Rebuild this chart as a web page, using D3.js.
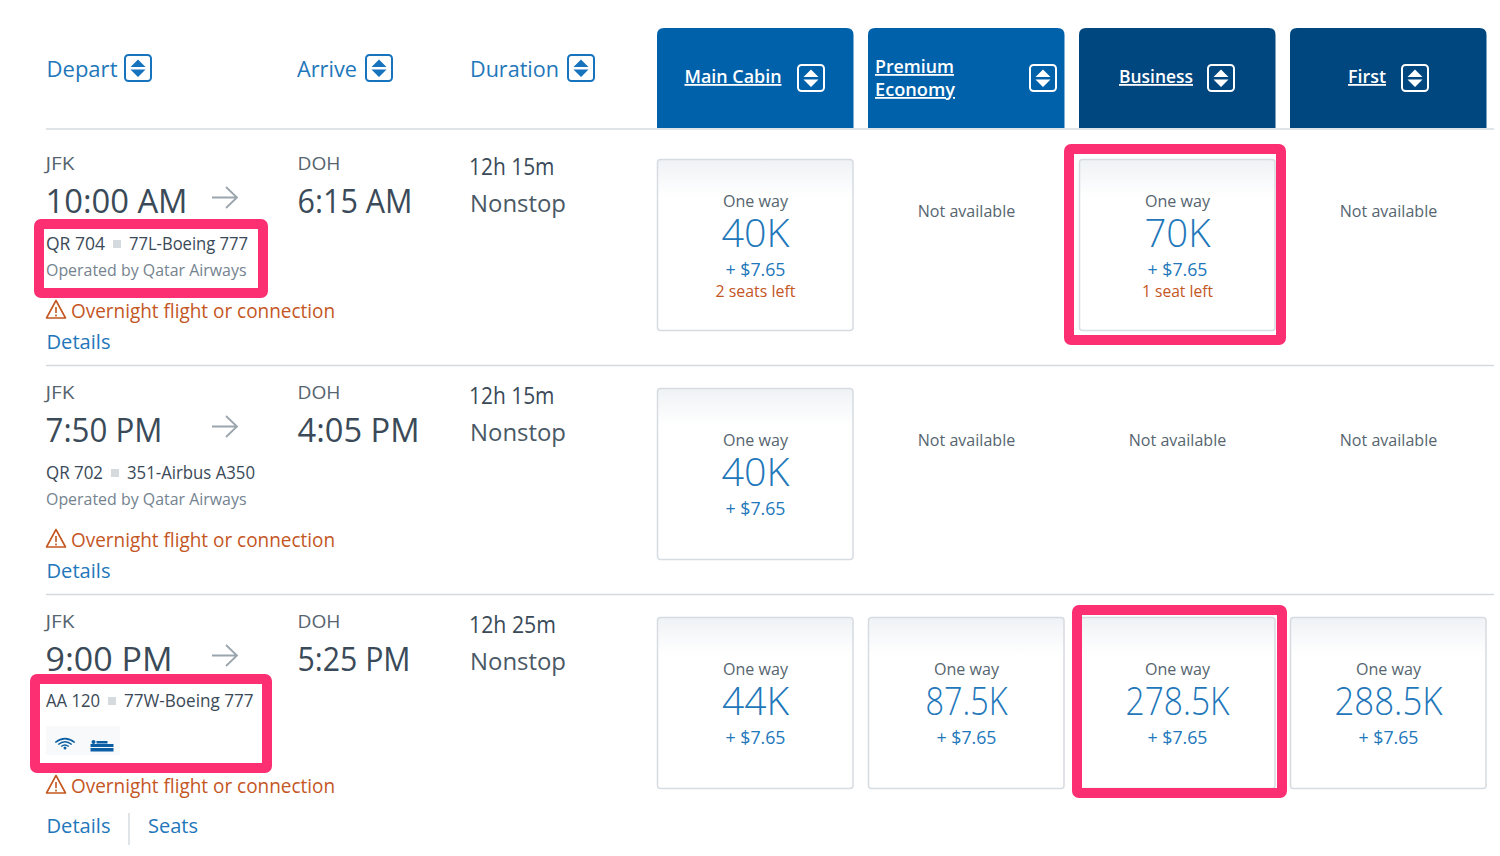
<!DOCTYPE html>
<html><head><meta charset="utf-8">
<script src="https://cdn.jsdelivr.net/npm/d3@7/dist/d3.min.js"></script>
<style>html,body{margin:0;background:#fff}svg{display:block}text{font-family:"Open Sans",sans-serif}</style>
</head><body><svg id="c" width="1500" height="856"></svg>
<script>
const cabins=["Main Cabin","Premium Economy","Business","First"];
const departAirports=["JFK","JFK","JFK"];
const departTimes=["10:00 AM","7:50 PM","9:00 PM"];
const arriveAirports=["DOH","DOH","DOH"];
const arriveTimes=["6:15 AM","4:05 PM","5:25 PM"];
const durations=["12h 15m","12h 15m","12h 25m"];
const stops=["Nonstop","Nonstop","Nonstop"];
const flights=["QR 704","QR 702","AA 120"];
const aircraft=["77L-Boeing 777","351-Airbus A350","77W-Boeing 777"];
const operators=["Operated by Qatar Airways","Operated by Qatar Airways",""];
const mainCabinFares=["40K","40K","44K"];
const premiumFares=[null,null,"87.5K"];
const businessFares=["70K",null,"278.5K"];
const firstFares=[null,null,"288.5K"];
const seatNotes=[["2 seats left",null,"1 seat left",null],[null,null,null,null],[null,null,null,null]];
const taxes="+ $7.65";

const DARK="#3a4a58",BLUE="#2277ba",ORANGE="#c4561f",PINK="#fb2f72",RULE="#d3dbe0";
const svg=d3.select("#c");
const defs=svg.append("defs");
const g=defs.append("linearGradient").attr("id","cardG").attr("x1",0).attr("x2",0).attr("y1",0).attr("y2",1);
g.append("stop").attr("offset",0).attr("stop-color","#eff2f5");
g.append("stop").attr("offset",.22).attr("stop-color","#ffffff");

const x=d3.scaleBand().domain(cabins).range([657,1487]).paddingInner(14/211).paddingOuter(0);
const y=d3.scaleBand().domain(d3.range(3)).range([129,816]);
const fares=[mainCabinFares,premiumFares,businessFares,firstFares];

function T(s,px,py,size,fill,opt={}){
  return svg.append("text").attr("x",px).attr("y",py).attr("font-size",size).attr("fill",fill)
   .attr("font-weight",opt.w||400).attr("text-anchor",opt.a||"start")
   .attr("text-decoration",opt.u?"underline":null)
   .attr("textLength",opt.len||null).attr("lengthAdjust",opt.len?"spacingAndGlyphs":null).text(s);
}
function sortIcon(px,py,col){
  const i=svg.append("g").attr("transform",`translate(${px},${py})`);
  i.append("rect").attr("x",1).attr("y",1).attr("width",26).attr("height",26).attr("rx",3.5).attr("fill","none").attr("stroke",col).attr("stroke-width",2);
  i.append("path").attr("d","M14 5.5L21.5 13H6.5Z M14 23L6.5 15.5H21.5Z").attr("fill",col);
}
[["Depart",46.5,71,124],["Arrive",297,60,365],["Duration",470,89,567]].forEach(([s,px,len,ix])=>{
  T(s,px,77,22,BLUE,{len}); sortIcon(ix,54,"#1673bd");
});
const tabColor=d3.scaleOrdinal().domain(cabins).range(["#0061ab","#0061ab","#00467f","#00467f"]);
svg.selectAll("path.tab").data(cabins).join("path").attr("class","tab")
  .attr("d",c=>{const a=x(c),w=x.bandwidth()-.5;return `M${a} 128V35Q${a} 28 ${a+7} 28H${a+w-7}Q${a+w} 28 ${a+w} 35V128Z`})
  .attr("fill",c=>tabColor(c));
T("Main Cabin",684.5,83,18,"#fff",{w:600,u:1,len:97}); sortIcon(797,64,"#fff");
T("Premium",875,73,18,"#fff",{w:600,u:1,len:79});
T("Economy",875,96,18,"#fff",{w:600,u:1,len:80}); sortIcon(1029,64,"#fff");
T("Business",1119,83,18,"#fff",{w:600,u:1,len:74}); sortIcon(1207,64,"#fff");
T("First",1348,83,18,"#fff",{w:600,u:1,len:38}); sortIcon(1401,64,"#fff");
[129,365.5,594.5].forEach(py=>svg.append("line").attr("x1",46).attr("x2",1494).attr("y1",py).attr("y2",py).attr("stroke",RULE).attr("stroke-width",1.5));

const timeLen={"10:00 AM":142,"7:50 PM":117,"9:00 PM":127,"6:15 AM":115,"4:05 PM":122,"5:25 PM":113};
const acLen=[119,128,129.5];
const flX=[129,127,124], flLen=[59,57,54], sq=[113,111,108];
d3.range(3).forEach(r=>{
  const t=y(r);
  T(departAirports[r],45.5,t+41,18,"#56656f",{len:29});
  T(departTimes[r],45.5,t+84,32,DARK,{len:timeLen[departTimes[r]]});
  svg.append("path").attr("d",`M212 ${t+68.5}H237M226 ${t+58}L237 ${t+68.5}L226 ${t+79}`).attr("fill","none").attr("stroke","#9aa5ad").attr("stroke-width",1.8);
  T(arriveAirports[r],297.5,t+41,18,"#56656f",{len:43});
  T(arriveTimes[r],297.5,t+84,32,DARK,{len:timeLen[arriveTimes[r]]});
  T(durations[r],469,t+46,23,DARK,{len:r==2?87:85.5});
  T(stops[r],470,t+83,23,"#4a5965",{len:96});
  const fy=r==2?t+120:t+121;
  T(flights[r],46,fy,17.5,DARK,{len:flLen[r]});
  svg.append("rect").attr("x",sq[r]).attr("y",fy-10).attr("width",8).attr("height",8).attr("fill","#d5dade");
  T(aircraft[r],flX[r],fy,17.5,DARK,{len:acLen[r]});
  if(operators[r]) T(operators[r],46,t+147,16,"#74838f",{len:200.5});
  const oy=r==2?t+206:t+189;
  svg.append("path").attr("d",`M56 ${oy-17.5}L65.5 ${oy}H46.5Z`).attr("fill","none").attr("stroke",ORANGE).attr("stroke-width",1.6).attr("stroke-linejoin","round");
  svg.append("path").attr("d",`M56 ${oy-11}V${oy-5}M56 ${oy-3.5}V${oy-1.5}`).attr("stroke",ORANGE).attr("stroke-width",1.6);
  T("Overnight flight or connection",71,oy,20,ORANGE,{len:264});
  const dy=r==2?t+246:t+220;
  T("Details",46.5,dy,20,BLUE,{len:64});
  if(r==2){
    svg.append("line").attr("x1",129).attr("x2",129).attr("y1",t+226).attr("y2",t+258).attr("stroke",RULE).attr("stroke-width",1.5);
    T("Seats",148,dy,20,BLUE,{len:50});
    svg.append("rect").attr("x",46).attr("y",t+139).attr("width",74).attr("height",29).attr("fill","#f8f9fa");
    const w=svg.append("g").attr("transform",`translate(65,${t+162})`).attr("fill","none").attr("stroke","#0d5fa3").attr("stroke-width",1.6);
    [5,9,13].forEach(q=>w.append("path").attr("d",`M${-q*.75} ${-q*.5}Q0 ${-q*1.1} ${q*.75} ${-q*.5}`));
    w.append("circle").attr("r",1.5).attr("cy",-1).attr("fill","#0d5fa3").attr("stroke","none");
    const b=svg.append("g").attr("transform",`translate(90.5,${t+155})`).attr("fill","#0d5fa3");
    b.append("rect").attr("y",2).attr("width",23).attr("height",3);
    b.append("rect").attr("y",6).attr("width",23).attr("height",3.5);
    b.append("circle").attr("cx",3).attr("cy",0).attr("r",2);
    b.append("rect").attr("x",6).attr("y",-1).attr("width",11).attr("height",2.5);
  }
  cabins.forEach((c,ci)=>{
    const a=x(c),w=x.bandwidth(),m=a+w/2,fare=fares[ci][r],note=seatNotes[r][ci];
    if(fare==null){
      T("Not available",m,t+88,16.5,"#56656f",{a:"middle",len:97.5});
      return;
    }
    svg.append("rect").attr("x",a+.5).attr("y",t+30.5).attr("width",w-1.5).attr("height",171).attr("rx",3).attr("fill","url(#cardG)").attr("stroke","#d6dce1").attr("stroke-width",1.5);
    const o=r==0?0:10;
    T("One way",m,t+78+o,16.5,"#56656f",{a:"middle",len:65});
    T(fare,m,t+118+o,38,BLUE,{a:"middle",w:300,len:{"40K":68,"70K":66,"44K":67,"87.5K":82,"278.5K":104,"288.5K":108}[fare]});
    T(taxes,m,t+147+o,18,BLUE,{a:"middle",len:60});
    if(note) T(note,m,t+168,15.5,ORANGE,{a:"middle",len:note[0]=="2"?80:71});
  });
});
[[39,224,224,69],[1069,149,212,191],[1077,610,205,183],[35,679,232,89]].forEach(([a,b,w,h])=>
 svg.append("rect").attr("x",a).attr("y",b).attr("width",w).attr("height",h).attr("rx",2).attr("fill","none").attr("stroke",PINK).attr("stroke-width",10).attr("stroke-linejoin","round"));
</script></body></html>
